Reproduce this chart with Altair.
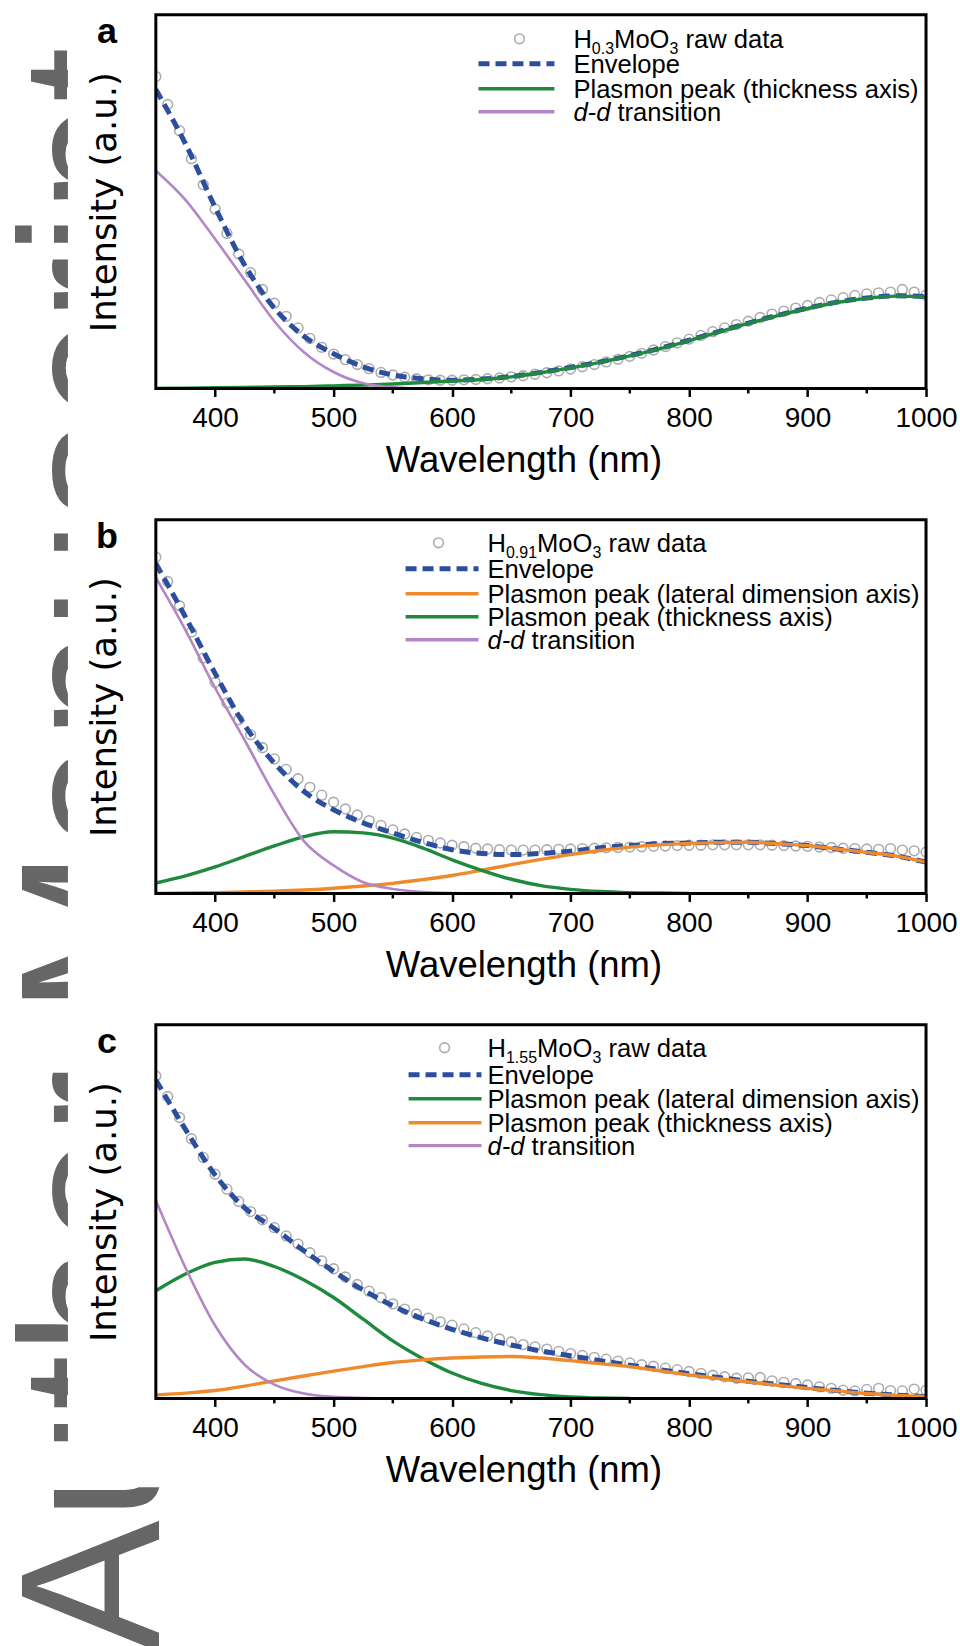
import altair as alt
import pandas as pd

FONT = "Liberation Sans, Arial, Helvetica, sans-serif"
YFONT = "DejaVu Sans, Verdana, sans-serif"

# ---------------- data ----------------
WL_RAW = list(range(350, 1001, 10))
WL_FIT = list(range(350, 1001, 25))
MAJOR = [400, 500, 600, 700, 800, 900, 1000]
MINOR = [450, 550, 650, 750, 850, 950]

RAW_A = [
    0.835, 0.760, 0.690, 0.615, 0.545, 0.480, 0.415, 0.360, 0.310, 0.265,
    0.228, 0.193, 0.162, 0.134, 0.110, 0.092, 0.077, 0.064, 0.053, 0.043,
    0.036, 0.030, 0.026, 0.023, 0.022, 0.022, 0.023, 0.024, 0.026, 0.028,
    0.031, 0.034, 0.038, 0.042, 0.047, 0.052, 0.058, 0.064, 0.071, 0.078,
    0.086, 0.094, 0.103, 0.112, 0.122, 0.132, 0.142, 0.152, 0.162, 0.171,
    0.180, 0.190, 0.199, 0.207, 0.215, 0.222, 0.230, 0.237, 0.243, 0.249,
    0.253, 0.256, 0.258, 0.265, 0.258, 0.250]
ENV_A = [0.800, 0.655, 0.485, 0.330, 0.215, 0.140, 0.093, 0.058, 0.036, 0.026,
         0.022, 0.025, 0.032, 0.043, 0.056, 0.071, 0.088, 0.107, 0.129, 0.152,
         0.175, 0.196, 0.215, 0.231, 0.242, 0.248, 0.246]
THICK_A = [0.000, 0.001, 0.002, 0.003, 0.004, 0.005, 0.007, 0.009, 0.012, 0.016,
           0.020, 0.024, 0.031, 0.042, 0.055, 0.070, 0.087, 0.106, 0.128, 0.151,
           0.174, 0.195, 0.214, 0.230, 0.241, 0.247, 0.245]
DD_A = [0.583, 0.505, 0.400, 0.290, 0.180, 0.097, 0.044, 0.014, 0.003, 0.000]

RAW_B = [
    0.900, 0.835, 0.770, 0.700, 0.630, 0.565, 0.510, 0.465, 0.425, 0.390,
    0.360, 0.332, 0.307, 0.284, 0.263, 0.244, 0.226, 0.210, 0.195, 0.182,
    0.170, 0.159, 0.150, 0.142, 0.135, 0.129, 0.125, 0.121, 0.119, 0.117,
    0.116, 0.116, 0.116, 0.117, 0.118, 0.119, 0.120, 0.121, 0.122, 0.123,
    0.124, 0.125, 0.126, 0.127, 0.128, 0.129, 0.129, 0.130, 0.130, 0.130,
    0.130, 0.130, 0.129, 0.128, 0.127, 0.126, 0.124, 0.123, 0.121, 0.120,
    0.119, 0.118, 0.120, 0.116, 0.114, 0.111]
ENV_B = [0.883, 0.740, 0.589, 0.450, 0.349, 0.273, 0.224, 0.189, 0.162, 0.137,
         0.117, 0.107, 0.104, 0.107, 0.113, 0.122, 0.128, 0.133, 0.135, 0.137,
         0.137, 0.133, 0.128, 0.119, 0.110, 0.100, 0.084]
LAT_B = [0.000, 0.001, 0.002, 0.004, 0.006, 0.009, 0.014, 0.020, 0.027, 0.037,
         0.048, 0.062, 0.077, 0.091, 0.104, 0.115, 0.124, 0.130, 0.134, 0.136,
         0.137, 0.133, 0.128, 0.119, 0.110, 0.100, 0.084]
THICK_B = [0.028, 0.047, 0.071, 0.099, 0.127, 0.152, 0.165, 0.162, 0.148, 0.122,
           0.090, 0.062, 0.038, 0.021, 0.011, 0.005, 0.002, 0.001, 0.000]
DD_B = [0.845, 0.705, 0.550, 0.410, 0.265, 0.140, 0.075, 0.030, 0.012, 0.004,
        0.001, 0.000]

RAW_C = [
    0.863, 0.808, 0.752, 0.695, 0.645, 0.600, 0.560, 0.527, 0.500, 0.478,
    0.457, 0.435, 0.413, 0.390, 0.368, 0.347, 0.325, 0.305, 0.287, 0.270,
    0.253, 0.239, 0.226, 0.215, 0.205, 0.196, 0.186, 0.176, 0.167, 0.159,
    0.151, 0.144, 0.138, 0.132, 0.126, 0.120, 0.115, 0.110, 0.105, 0.100,
    0.095, 0.090, 0.086, 0.081, 0.077, 0.072, 0.067, 0.062, 0.058, 0.054,
    0.055, 0.056, 0.047, 0.043, 0.040, 0.036, 0.031, 0.027, 0.022, 0.020,
    0.024, 0.027, 0.021, 0.020, 0.025, 0.022]
ENV_C = [0.852, 0.720, 0.598, 0.510, 0.455, 0.395, 0.340, 0.290, 0.248, 0.213,
         0.185, 0.162, 0.143, 0.127, 0.114, 0.101, 0.089, 0.077, 0.066, 0.056,
         0.046, 0.037, 0.029, 0.021, 0.014, 0.009, 0.005]
LAT_C = [0.288, 0.333, 0.364, 0.373, 0.353, 0.317, 0.270, 0.212, 0.154, 0.107,
         0.068, 0.040, 0.021, 0.010, 0.004, 0.001, 0.000]
THICK_C = [0.009, 0.014, 0.021, 0.033, 0.047, 0.060, 0.073, 0.085, 0.096, 0.103,
           0.108, 0.111, 0.112, 0.108, 0.101, 0.093, 0.085, 0.074, 0.063, 0.053,
           0.044, 0.035, 0.027, 0.020, 0.013, 0.008, 0.005]
DD_C = [0.530, 0.350, 0.195, 0.090, 0.037, 0.013, 0.004, 0.001, 0.000]

WATERMARK = "Author Manuscript"

C_RAW = "#8a8a8a"
C_ENV = "#2c4e9e"
C_GREEN = "#1f8a3e"
C_ORANGE = "#ef8a2c"
C_PURPLE = "#b386c5"

W, H = 771, 374
FS_LEG, FS_SUB = 25.6, 16

# Arial / Liberation Sans advance widths (per em)
ADV = {"H": 0.722, "M": 0.833, "o": 0.556, "O": 0.778, ".": 0.278,
       "0": 0.556, "1": 0.556, "3": 0.556, "5": 0.556, "9": 0.556,
       "d": 0.556, "-": 0.333, " ": 0.278}


def tw(s, fs):
    return sum(ADV[c] for c in s) * fs


ONE = pd.DataFrame({"k": [0]})

xs = alt.Scale(domain=[350, 1000], nice=False, zero=False)
ys = alt.Scale(domain=[0, 1], nice=False, zero=False)
x_axis = alt.Axis(values=MAJOR, format="d", labelFont=FONT, labelFontSize=28,
                  labelColor="black", labelPadding=8, labelFlush=False, tickSize=8,
                  tickWidth=2.5, tickColor="black", domain=False, grid=False,
                  title="Wavelength (nm)", titleFont=FONT, titleFontSize=36.5,
                  titleFontWeight="normal", titleColor="black", titlePadding=10,
                  titleX=368, zindex=1)
y_axis = alt.Axis(labels=False, ticks=False, domain=False, grid=False,
                  title="Intensity (a.u.)", titleFont=YFONT, titleFontSize=35.5,
                  titleFontWeight="normal", titleColor="black", titlePadding=33,
                  zindex=1)
X = alt.X("wl:Q", scale=xs, axis=x_axis)
Y = alt.Y("v:Q", scale=ys, axis=y_axis)


def curve(vals, color, width, dash=None):
    df = pd.DataFrame({"wl": WL_FIT[:len(vals)], "v": vals})
    kw = dict(color=color, strokeWidth=width, interpolate="monotone", clip=True)
    if dash:
        kw["strokeDash"] = dash
    return alt.Chart(df).mark_line(**kw).encode(x=X, y=Y)


def txt(x, y, s, fs=FS_LEG, **kw):
    return alt.Chart(ONE).mark_text(align="left", baseline="alphabetic", font=FONT,
                                    fontSize=fs, color="black", **kw).encode(
        x=alt.value(x), y=alt.value(y), text=alt.value(s))


def panel(label, raw, comps, sub, leg, first=False):
    layers = []
    if first:
        # page anchor, watermark and the white sheet of the figure
        layers.append(alt.Chart(ONE).mark_rect(opacity=0).encode(
            x=alt.value(-155), x2=alt.value(805), y=alt.value(-14), y2=alt.value(1632)))
        layers.append(alt.Chart(pd.DataFrame({"t": [WATERMARK]})).mark_text(
            align="left", baseline="alphabetic", angle=270, font=FONT, fontSize=198,
            color="#666666").encode(x=alt.value(3), y=alt.value(1639), text="t:N"))
        layers.append(alt.Chart(ONE).mark_rect(color="white").encode(
            x=alt.value(-88), x2=alt.value(805), y=alt.value(-14), y2=alt.value(1474)))
    raw_df = pd.DataFrame({"wl": WL_RAW, "v": raw})
    layers.append(alt.Chart(raw_df).mark_point(shape="circle", size=95, filled=False,
                                               color=C_RAW, strokeWidth=1.6, clip=True)
                  .encode(x=X, y=Y))
    env = [c for c in comps if c[0] == "Envelope"][0]
    layers.append(curve(env[1], C_ENV, 5, [11, 6]))
    for name, vals, color in comps:
        if name != "Envelope":
            layers.append(curve(vals, color, 2.6 if color == C_PURPLE else 3.4))
    layers.append(alt.Chart(ONE).mark_rect(fillOpacity=0, stroke="black", strokeWidth=3)
                  .encode(x=alt.value(0), x2=alt.value(W), y=alt.value(0), y2=alt.value(H)))
    layers.append(alt.Chart(pd.DataFrame({"wl": MINOR})).mark_rule(
        color="black", strokeWidth=2.5).encode(x=X, y=alt.value(H), y2=alt.value(H + 5)))
    # legend
    x0, x1, xc, xt, rows = leg
    layers.append(alt.Chart(ONE).mark_point(shape="circle", size=95, filled=False,
                                            color=C_RAW, strokeWidth=1.6)
                  .encode(x=alt.value(xc), y=alt.value(rows[0])))
    yb = rows[0] + 9
    xx = xt
    layers.append(txt(xx, yb, "H")); xx += tw("H", FS_LEG)
    layers.append(txt(xx, yb + 6, sub, FS_SUB)); xx += tw(sub, FS_SUB)
    layers.append(txt(xx, yb, "MoO")); xx += tw("MoO", FS_LEG)
    layers.append(txt(xx, yb + 6, "3", FS_SUB)); xx += tw("3", FS_SUB)
    xx += tw(" ", FS_LEG)
    layers.append(txt(xx, yb, "raw data"))
    for i, (name, vals, color) in enumerate(comps, start=1):
        y = rows[i]
        kw = dict(color=color, strokeWidth=5 if name == "Envelope" else 3.4)
        if name == "Envelope":
            kw["strokeDash"] = [11, 6]
        layers.append(alt.Chart(ONE).mark_rule(**kw).encode(
            x=alt.value(x0), x2=alt.value(x1), y=alt.value(y)))
        if name == "d-d transition":
            layers.append(txt(xt, y + 9, "d-d", fontStyle="italic"))
            layers.append(txt(xt + tw("d-d ", FS_LEG), y + 9, "transition"))
        else:
            layers.append(txt(xt, y + 9, name))
    layers.append(alt.Chart(ONE).mark_text(align="center", baseline="alphabetic",
                                           font=FONT, fontSize=36, fontWeight="bold",
                                           color="black")
                  .encode(x=alt.value(-49), y=alt.value(28), text=alt.value(label)))
    return alt.layer(*layers).properties(width=W, height=H)


pa = panel("a", RAW_A,
           [("Envelope", ENV_A, C_ENV),
            ("Plasmon peak (thickness axis)", THICK_A, C_GREEN),
            ("d-d transition", DD_A, C_PURPLE)],
           "0.3", (323, 399, 364, 418, [24, 49, 74, 97]), first=True)
pb = panel("b", RAW_B,
           [("Envelope", ENV_B, C_ENV),
            ("Plasmon peak (lateral dimension axis)", LAT_B, C_ORANGE),
            ("Plasmon peak (thickness axis)", THICK_B, C_GREEN),
            ("d-d transition", DD_B, C_PURPLE)],
           "0.91", (250, 323, 283, 332, [23, 49, 74, 97, 120]))
pc = panel("c", RAW_C,
           [("Envelope", ENV_C, C_ENV),
            ("Plasmon peak (lateral dimension axis)", LAT_C, C_GREEN),
            ("Plasmon peak (thickness axis)", THICK_C, C_ORANGE),
            ("d-d transition", DD_C, C_PURPLE)],
           "1.55", (253, 326, 289, 332, [23, 50, 74, 98, 121]))

chart = alt.vconcat(pa, pb, pc, spacing=131.5, bounds="flush").properties(
    padding=0, background="white"
).configure_view(stroke=None)

chart.save("out.html", embed_options={"renderer": "svg", "actions": False})
